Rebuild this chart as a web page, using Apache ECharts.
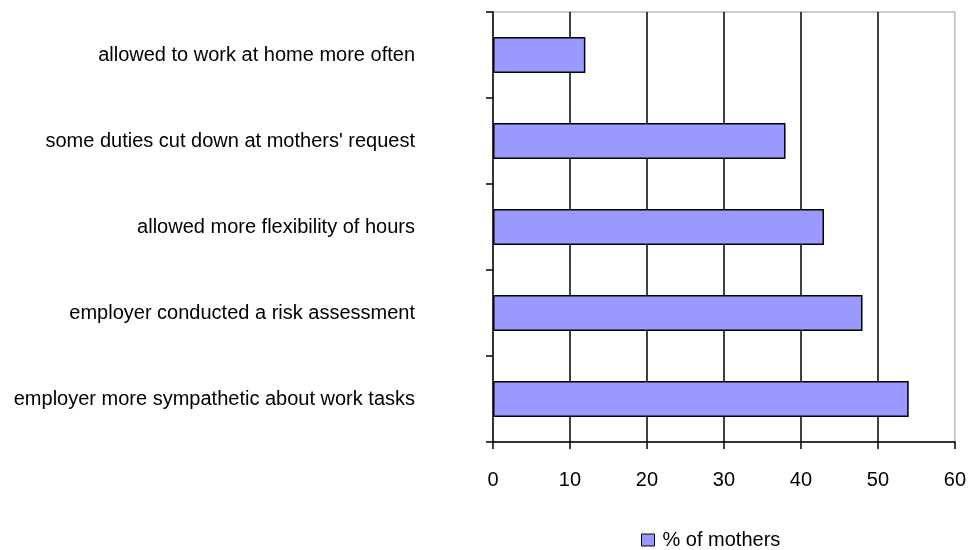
<!DOCTYPE html>
<html>
<head>
<meta charset="utf-8">
<script src="https://cdn.jsdelivr.net/npm/echarts@6/dist/echarts.min.js"></script>
<style>
  html, body { margin: 0; padding: 0; background: #fff; }
  #main { width: 969px; height: 550px; }
</style>
</head>
<body>
<div id="main"></div>
<script>
// categories, top to bottom
var categories = [
    'allowed to work at home more often',
    "some duties cut down at mothers' request",
    'allowed more flexibility of hours',
    'employer conducted a risk assessment',
    'employer more sympathetic about work tasks'
];
var mothers = [12, 38, 43, 48, 54];
var seriesName = '% of mothers';

var font = '"Liberation Sans", Arial, sans-serif';

var option = {
    animation: false,
    backgroundColor: '#fff',
    textStyle: { fontFamily: font },
    grid: {
        left: 493, right: 12, top: 12, bottom: 108,
        show: true, borderColor: '#999', borderWidth: 1,
        backgroundColor: 'transparent'
    },
    legend: {
        data: [seriesName],
        icon: 'rect',
        left: 636, top: 525,
        itemWidth: 13, itemHeight: 12,
        textStyle: { fontSize: 20, color: '#000', fontFamily: font, padding: [0, 0, 0, 3] },
        itemStyle: { borderColor: '#000', borderWidth: 1 }
    },
    xAxis: {
        type: 'value',
        min: 0, max: 60, interval: 10,
        axisLine: { show: true, lineStyle: { color: '#000', width: 1.5 } },
        axisTick: { show: true, length: 7, lineStyle: { color: '#000', width: 1.5 } },
        axisLabel: { color: '#000', fontSize: 20, fontFamily: font, margin: 28 },
        splitLine: {
            show: true, showMinLine: false, showMaxLine: false,
            lineStyle: { color: '#000', width: 1.5 }
        }
    },
    yAxis: {
        type: 'category',
        inverse: true,
        data: categories,
        axisLine: { show: true, lineStyle: { color: '#000', width: 1.5 } },
        axisTick: { show: true, length: 7, lineStyle: { color: '#000', width: 1.5 } },
        axisLabel: { color: '#000', fontSize: 20, fontFamily: font, margin: 78 },
        splitLine: { show: false }
    },
    series: [{
        name: seriesName,
        type: 'bar',
        data: mothers,
        barWidth: 36,
        itemStyle: { color: '#9999FF', borderColor: '#000', borderWidth: 1.5 }
    }]
};

echarts.init(document.getElementById('main')).setOption(option);
</script>
</body>
</html>
